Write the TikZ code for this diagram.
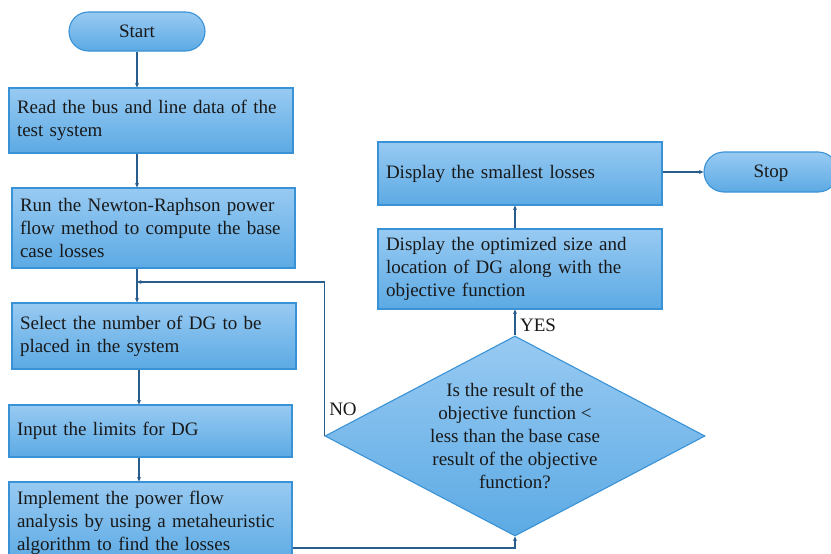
\documentclass[tikz,border=0pt]{standalone}
\usepackage{fontspec}
\setmainfont{Liberation Serif}
\usetikzlibrary{shapes.geometric,shapes.misc,arrows.meta}
\definecolor{boxtop}{RGB}{152,202,242}
\definecolor{boxbot}{RGB}{92,170,228}
\definecolor{boxline}{RGB}{58,146,214}
\definecolor{arrowc}{RGB}{40,92,140}
\begin{document}
\begin{tikzpicture}[x=1pt,y=-1pt,
  every node/.style={font=\fontsize{19}{22.8}\selectfont, text=black!90},
  shade/.style={top color=boxtop, bottom color=boxbot, draw=boxline, line width=1.1pt},
  box/.style={shade, rectangle, align=left, inner xsep=8pt, inner ysep=0pt, text width=#1},
  term/.style={shade, rounded rectangle, inner sep=0pt, text depth=0.25ex},
  decision/.style={shade, diamond, aspect=1.9, inner sep=0pt, align=center},
  conn/.style={draw=arrowc, line width=1.1pt, -{Stealth[length=4.5pt,width=4pt]}},
  lbl/.style={inner sep=0pt}]
\useasboundingbox (0,0) rectangle (831,554);
\fill[white] (0,0) rectangle (831,554);

\node[term, minimum width=136pt, minimum height=39pt] (start) at (137,31.5) {Start};
\node[box=268pt, minimum height=65pt] (b1) at (151,120.5) {Read the bus and line data of the\\test system};
\node[box=267pt, minimum height=80pt] (b2) at (153.5,228) {Run the Newton-Raphson power\\flow method to compute the base\\case losses};
\node[box=268pt, minimum height=66pt] (b3) at (154,336) {Select the number of DG to be\\placed in the system};
\node[box=267pt, minimum height=52pt] (b4) at (150.5,431) {Input the limits for DG};
\node[box=267pt, minimum height=82pt] (b5) at (150.5,523) {Implement the power flow\\analysis by using a metaheuristic\\algorithm to find the losses};
\node[decision, minimum width=380pt, minimum height=200pt] (d) at (515,436) {Is the result of the\\objective function <\\less than the base case\\result of the objective\\function?};
\node[box=268pt, minimum height=80pt] (b6) at (520,269) {Display the optimized size and\\location of DG along with the\\objective function};
\node[box=268pt, minimum height=63pt] (b7) at (520,173.5) {Display the smallest losses};
\node[term, minimum width=134pt, minimum height=40pt] (stop) at (771,172) {Stop};

\coordinate (j) at (137,282);
\coordinate (x1) at (137,0);
\coordinate (x2) at (139,0);

\draw[conn] (start.south) -- (start.south |- b1.north);
\draw[conn] (x1 |- b1.south) -- (x1 |- b2.north);
\draw[conn] (x1 |- b2.south) -- (x1 |- b3.north);
\draw[conn] (x2 |- b3.south) -- (x2 |- b4.north);
\draw[conn] (x2 |- b4.south) -- (x2 |- b5.north);
\draw[conn] (b5.east |- 0,548) -| (d.south);
\draw[conn] (d.north) -- (d.north |- b6.south);
\draw[conn] (d.north |- b6.north) -- (d.north |- b7.south);
\draw[conn] (b7.east |- stop.west) -- (stop.west);
\draw[conn] (d.west) -- (d.west |- j) -- (j);

\node[lbl] (no) at (343,409) {NO};
\node[lbl] (yes) at (538,325) {YES};
\end{tikzpicture}
\end{document}
